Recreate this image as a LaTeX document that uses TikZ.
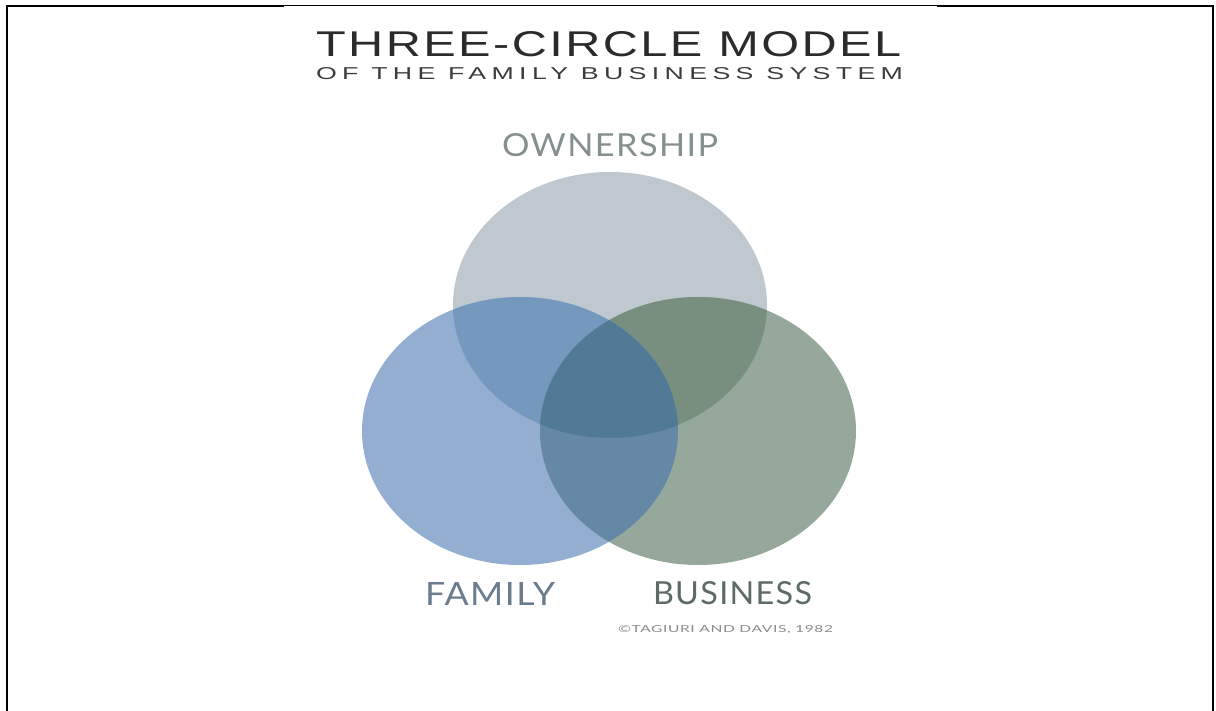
\documentclass[tikz,border=0pt]{standalone}
\usepackage{fontspec}
\setmainfont{Liberation Sans}
\newfontfamily\titlefont[LetterSpace=5]{Liberation Sans}
\newfontfamily\subfont[LetterSpace=20]{Liberation Sans}
\newfontfamily\labfont[LetterSpace=4]{Lato}
\definecolor{ownc}{HTML}{C0C8CF}
\definecolor{famc}{HTML}{93AED0}
\definecolor{busc}{HTML}{96A89B}
\definecolor{ofc}{HTML}{7598BE}
\definecolor{obc}{HTML}{788F80}
\definecolor{fbc}{HTML}{6488A5}
\definecolor{allc}{HTML}{507A96}
\definecolor{titc}{HTML}{2B2B2B}
\definecolor{subc}{HTML}{3C3C3C}
\definecolor{ownt}{HTML}{858F8F}
\definecolor{famt}{HTML}{6B7C8E}
\definecolor{bust}{HTML}{5E6A68}
\definecolor{copt}{HTML}{8A8A8A}
\begin{document}
\begin{tikzpicture}[x=1pt,y=-1pt,
  txt/.style={anchor=south west,inner sep=0pt,outer sep=0pt},
  frame/.style={draw=black,line width=2pt},
  thinframe/.style={draw=black,line width=1pt}]
\useasboundingbox (0,0) rectangle (1216,711);
% frame
\coordinate (tl) at (7,6);
\coordinate (ta) at (284,6);
\coordinate (tb) at (937,6);
\coordinate (tr) at (1213,6);
\coordinate (bl) at (7,711);
\coordinate (br) at (1213,711);
\draw[frame] (bl) -- (tl) -- (ta);
\draw[thinframe] (ta) -- (tb);
\draw[frame] (tb) -- (tr) -- (br);
% ellipse centres
\coordinate (O) at (610,305);
\coordinate (F) at (520,431);
\coordinate (B) at (698,431);
\def\ownE{(O) ellipse [x radius=157pt, y radius=133pt]}
\def\famE{(F) ellipse [x radius=158pt, y radius=134pt]}
\def\busE{(B) ellipse [x radius=158pt, y radius=134pt]}
\fill[ownc] \ownE;
\fill[famc] \famE;
\fill[busc] \busE;
\begin{scope}\clip \ownE; \fill[ofc] \famE; \end{scope}
\begin{scope}\clip \ownE; \fill[obc] \busE; \end{scope}
\begin{scope}\clip \famE; \fill[fbc] \busE; \end{scope}
\begin{scope}\clip \ownE; \clip \famE; \fill[allc] \busE; \end{scope}
% texts
\node[txt,text=titc] (title) at (316,57) {\resizebox{585pt}{25pt}{\titlefont THREE-CIRCLE MODEL}};
\node[txt,text=subc] (sub) at (316,80) {\resizebox{587pt}{12pt}{\subfont OF THE FAMILY BUSINESS SYSTEM}};
\node[txt,text=ownt] (own) at (502,157) {\resizebox{216pt}{23pt}{\labfont OWNERSHIP}};
\node[txt,text=famt] (fam) at (425,605) {\resizebox{130pt}{23pt}{\labfont FAMILY}};
\node[txt,text=bust] (bus) at (653,605) {\resizebox{159pt}{23pt}{\labfont BUSINESS}};
\node[txt,text=copt] (cop) at (618,634) {\resizebox{215pt}{7pt}{\labfont ©TAGIURI AND DAVIS, 1982}};
\end{tikzpicture}
\end{document}
